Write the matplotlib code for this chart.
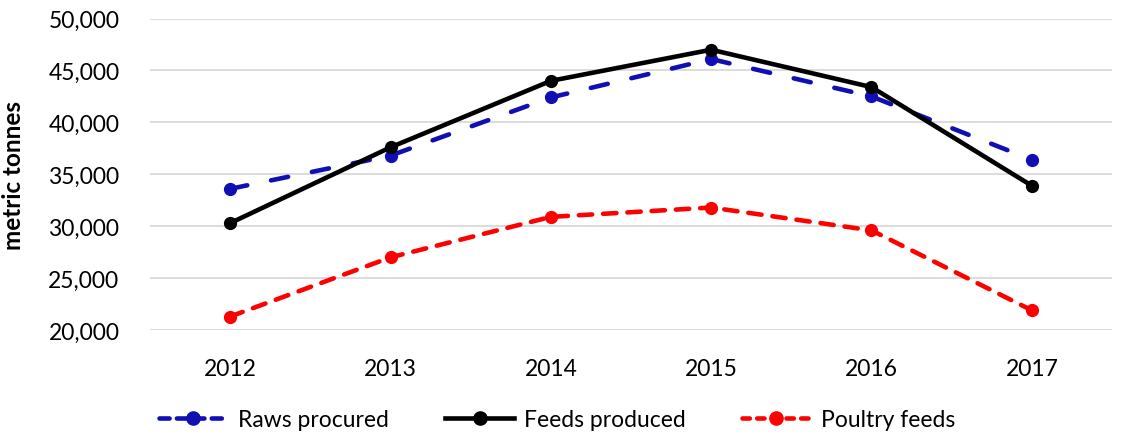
#!/usr/bin/env python3
# -*- coding: utf-8 -*-

import matplotlib
matplotlib.use('Agg')
import matplotlib.pyplot as plt
from matplotlib.lines import Line2D

years = ['2012', '2013', '2014', '2015', '2016', '2017']
raws_procured = [33600, 36800, 42400, 46100, 42500, 36400]
feeds_produced = [30300, 37600, 44000, 47000, 43400, 33900]
poultry_feeds = [21300, 27000, 30900, 31800, 29600, 21900]

BLUE = '#0F0FB4'
RED = '#FF0000'

plt.rcParams['font.family'] = ['Lato', 'DejaVu Sans']


def plot_chart():
    fig = plt.figure(figsize=(11.28, 4.35), dpi=100)
    ax = fig.add_axes([0.133, 0.239, 0.8528, 0.716])

    x = list(range(len(years)))
    lw = 3.3
    ms = 8.5

    blue_dash = (0, (3.8, 5.3))
    red_dash = (0, (2.9, 2.4))

    ax.plot(x, raws_procured, marker='o', color=BLUE, lw=lw, ms=ms,
            ls=blue_dash, dash_capstyle='round', zorder=3)
    ax.plot(x, feeds_produced, marker='o', color='black', lw=lw, ms=ms,
            zorder=4)
    ax.plot(x, poultry_feeds, marker='o', color=RED, lw=lw, ms=ms,
            ls=red_dash, dash_capstyle='round', zorder=3)

    ax.set_xlim(-0.5, len(years) - 0.5)
    ax.set_ylim(20000, 50000)
    ax.set_yticks(range(20000, 50001, 5000))
    ax.set_yticklabels(['{:,}'.format(v) for v in range(20000, 50001, 5000)])
    ax.set_xticks(x)
    ax.set_xticklabels(years)

    ax.grid(axis='y', color='#D9D9D9', lw=1.3)
    ax.set_axisbelow(True)
    for s in ax.spines.values():
        s.set_visible(False)
    ax.tick_params(axis='both', length=0, labelsize=16.5)
    ax.tick_params(axis='y', pad=22)
    ax.tick_params(axis='x', pad=20)

    ax.set_ylabel('metric tonnes', fontsize=17.5, fontweight='bold')
    ax.yaxis.set_label_coords(-0.130, 0.5)

    handles = [
        Line2D([], [], color=BLUE, lw=lw, ls=(0, (2.2, 1.6)),
               dash_capstyle='round', marker='o', ms=ms + 1),
        Line2D([], [], color='black', lw=lw, marker='o', ms=ms + 1),
        Line2D([], [], color=RED, lw=lw, ls=(0, (1.6, 1.6)),
               dash_capstyle='round', marker='o', ms=ms + 1),
    ]
    fig.legend(handles, ['Raws procured', 'Feeds produced', 'Poultry feeds'],
               loc='center', bbox_to_anchor=(0.494, 0.033), ncol=3,
               frameon=False, fontsize=16.5, handlelength=3.0,
               handletextpad=0.45, columnspacing=2.45)

    fig.savefig('out.png', dpi=100)


def main():
    plot_chart()


if __name__ == '__main__':
    main()
